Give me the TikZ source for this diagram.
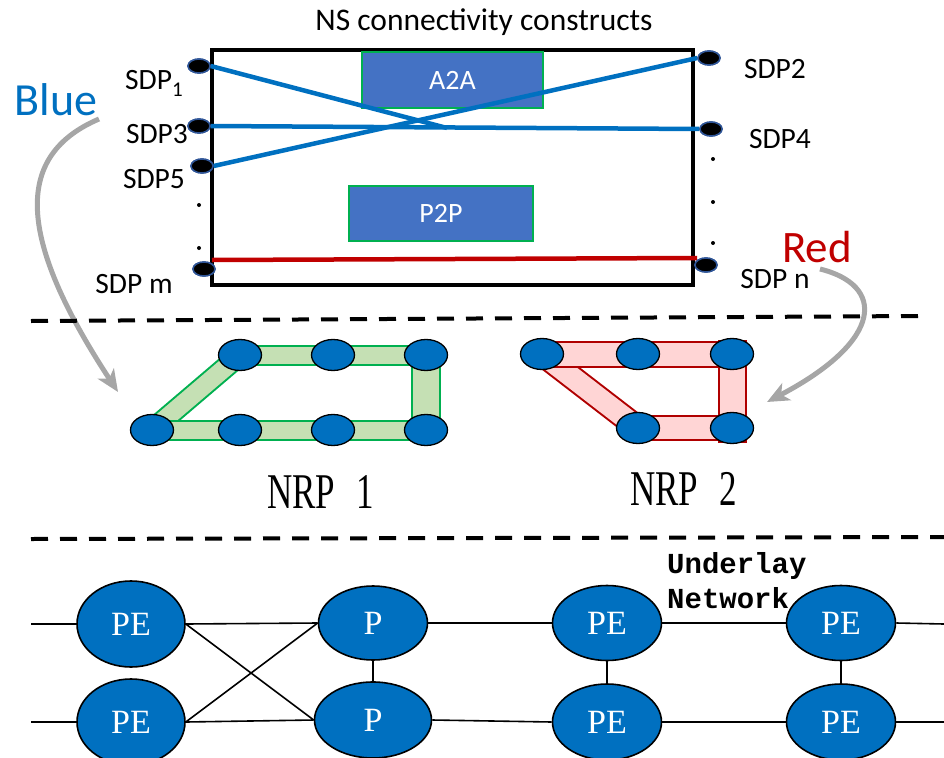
\documentclass[tikz,border=0pt]{standalone}
\usepackage{fontspec}
\setmainfont{Carlito}
\newfontfamily\serifn{Liberation Serif}
\newfontfamily\serifnarrow[FakeStretch=0.7]{Liberation Serif}
\newfontfamily\monof{Liberation Mono}
\usetikzlibrary{shapes.geometric,arrows.meta}
\pgfdeclarelayer{bg}
\pgfsetlayers{bg,main}
\definecolor{lineblue}{HTML}{0070C0}
\definecolor{boxblue}{HTML}{4472C4}
\definecolor{greenb}{HTML}{00B050}
\definecolor{lightg}{HTML}{C5E0B4}
\definecolor{pinkf}{HTML}{FFD5D5}
\definecolor{darkr}{HTML}{B00000}
\definecolor{redline}{HTML}{C00000}
\definecolor{grayarr}{HTML}{A6A6A6}
\definecolor{sdpborder}{HTML}{2F5597}
\tikzset{
  sdp/.style={ellipse,draw=sdpborder,fill=black,line width=1.5pt,minimum width=22pt,minimum height=14pt,inner sep=0pt},
  sdplabel/.style={font=\fontsize{29.5}{34}\selectfont,inner sep=0pt,anchor=base},
  conn/.style={draw=lineblue,line width=4.5pt},
  bluebox/.style={rectangle,fill=boxblue,draw=greenb,line width=1.5pt,text=white,font=\fontsize{28}{32}\selectfont,inner sep=0pt},
  nrpnode/.style={ellipse,draw=black,fill=lineblue,line width=1.3pt,minimum width=43pt,minimum height=31pt,inner sep=0pt},
  ulnode/.style={ellipse,draw=black,fill=lineblue,line width=1.6pt,inner sep=0pt,text=white,font=\serifn\fontsize{34}{34}\selectfont},
  ulline/.style={draw=black,line width=1.6pt},
  dashline/.style={line width=4pt,dash pattern=on 17pt off 12pt},
  grayarrow/.style={draw=grayarr,line width=5pt,-{Stealth[length=22pt,width=19pt,inset=6pt]}},
  nrplabel/.style={font=\serifnarrow\fontsize{50}{50}\selectfont,anchor=base west,inner sep=0pt}
}
\begin{document}
\begin{tikzpicture}[x=1pt,y=-1pt]
\useasboundingbox (0,0) rectangle (944,757);

% ---------- top section ----------
\node[font=\fontsize{31.5}{34}\selectfont] (title) at (484,22) {NS connectivity constructs};
\node[draw=black,line width=4.5pt,minimum width=481pt,minimum height=235pt,inner sep=0pt] (ns) at (452.5,167.5) {};
\node[bluebox,minimum width=181pt,minimum height=56pt] (a2a) at (452.5,80) {A2A};
\node[bluebox,minimum width=184pt,minimum height=55pt] (p2p) at (441,213.5) {P2P};

\node[sdp] (s1) at (199,66) {};
\node[sdp] (s3) at (199,126) {};
\node[sdp] (s5) at (202,166) {};
\node[sdp] (sm) at (204,269) {};
\node[sdp] (s2) at (709,58) {};
\node[sdp] (s4) at (711,129) {};
\node[sdp] (sn) at (706,265) {};
\coordinate (j) at (447,128);
\coordinate (rl) at (212,260);
\coordinate (rr) at (697,258);

\draw[conn] (s3.east) -- (s4.west);
\draw[conn] (s1.east) -- (j);
\draw[conn] (s5.east) -- (s2.west);
\draw[draw=redline,line width=4.5pt] (rl) -- (rr);
% SDP ellipses on top of the connectors
\node[sdp] at (s1) {};
\node[sdp] at (s3) {};
\node[sdp] at (s5) {};
\node[sdp] at (sm) {};
\node[sdp] at (s2) {};
\node[sdp] at (s4) {};
\node[sdp] at (sn) {};

\fill (199,205) circle (2pt);
\fill (199,248) circle (2pt);
\fill (713,159) circle (2pt);
\fill (713,202) circle (2pt);
\fill (713,243) circle (2pt);

\node[sdplabel,anchor=base west] (l1) at (125,90) {SDP\raisebox{-7pt}{\fontsize{21}{21}\selectfont 1}};
\node[sdplabel] (l3) at (157,143) {SDP3};
\node[sdplabel] (l5) at (154,188) {SDP5};
\node[sdplabel] (lm) at (134,293) {SDP m};
\node[sdplabel] (l2) at (775,79) {SDP2};
\node[sdplabel] (l4) at (780,148) {SDP4};
\node[sdplabel] (ln) at (775,288) {SDP n};

\node[font=\fontsize{46}{50}\selectfont,text=lineblue,anchor=base,inner sep=0pt] (blue) at (56,115) {Blue};
\node[font=\fontsize{45}{50}\selectfont,text=redline,anchor=base,inner sep=0pt] (red) at (817,262) {Red};

\coordinate (bt) at (118,392);
\coordinate (rt) at (767,402);
\draw[grayarrow] (99,119) .. controls (15,155) and (15,235) .. (bt);
\draw[grayarrow] (820,269) .. controls (885,285) and (885,340) .. (rt);

% dashed separators
\draw[dashline] (31,321) -- (920,316);
\draw[dashline] (31,539) -- (944,537);

% ---------- NRP 1 ----------
\node[nrpnode] (g1) at (240,355) {};
\node[nrpnode] (g2) at (333,355) {};
\node[nrpnode] (g3) at (426,355) {};
\node[nrpnode] (g4) at (152,430) {};
\node[nrpnode] (g5) at (240,430) {};
\node[nrpnode] (g6) at (333,430) {};
\node[nrpnode] (g7) at (426,430) {};
\begin{pgfonlayer}{bg}
\draw[draw=greenb,line width=22pt] (g4.center) -- (g1.center);
\draw[draw=lightg,line width=18pt] (g4.center) -- (g1.center);
\draw[draw=greenb,line width=30pt] (g3.center) -- (g7.center);
\draw[draw=lightg,line width=26pt] (g3.center) -- (g7.center);
\draw[draw=greenb,line width=21pt] (g1.center) -- (g3.center);
\draw[draw=lightg,line width=17pt] (g1.center) -- (g3.center);
\draw[draw=greenb,line width=21pt] (g4.center) -- (g7.center);
\draw[draw=lightg,line width=17pt] (g4.center) -- (g7.center);
\end{pgfonlayer}
\node[nrplabel] (nrp1) at (267,508) {NRP\hspace{21pt}1};

% ---------- NRP 2 ----------
\node[nrpnode] (r1) at (542,354) {};
\node[nrpnode] (r2) at (638,354) {};
\node[nrpnode] (r3) at (732,354) {};
\node[nrpnode] (r4) at (638,428) {};
\node[nrpnode] (r5) at (732,428) {};
\begin{pgfonlayer}{bg}
\draw[draw=darkr,line width=25pt] (r1.center) -- (r4.center);
\draw[draw=pinkf,line width=21pt] (r1.center) -- (r4.center);
\draw[draw=darkr,line width=29pt,line cap=rect] (r3.center) -- (r5.center);
\draw[draw=pinkf,line width=25pt,line cap=rect] (r3.center) -- (r5.center);
\draw[draw=darkr,line width=27pt] (r1.center) -- (r3.center);
\draw[draw=pinkf,line width=23pt] (r1.center) -- (r3.center);
\draw[draw=darkr,line width=26pt] (r4.center) -- (r5.center);
\draw[draw=pinkf,line width=22pt] (r4.center) -- (r5.center);
\end{pgfonlayer}
\node[nrplabel] (nrp2) at (630,505) {NRP\hspace{21pt}2};

% ---------- underlay ----------
\node[ulnode,minimum width=108pt,minimum height=86pt] (pe1) at (131,624) {PE};
\node[ulnode,minimum width=108pt,minimum height=86pt] (pe2) at (131,722) {PE};
\node[ulnode,minimum width=109pt,minimum height=74pt] (p1) at (373,623) {P};
\node[ulnode,minimum width=117pt,minimum height=76pt] (p2) at (373,720) {P};
\node[ulnode,minimum width=109pt,minimum height=75pt] (pe3) at (607,623) {PE};
\node[ulnode,minimum width=109pt,minimum height=76pt] (pe4) at (607,722) {PE};
\node[ulnode,minimum width=109pt,minimum height=75pt] (pe5) at (841,623) {PE};
\node[ulnode,minimum width=109pt,minimum height=76pt] (pe6) at (841,722) {PE};
\coordinate (a1) at (31,624);
\coordinate (a2) at (31,722);
\coordinate (b1) at (944,624);
\coordinate (b2) at (944,722);
\draw[ulline] (a1) -- (pe1.west);
\draw[ulline] (a2) -- (pe2.west);
\draw[ulline] (pe1.east) -- (p1.west);
\draw[ulline] (pe1.east) -- (p2.west);
\draw[ulline] (pe2.east) -- (p1.west);
\draw[ulline] (pe2.east) -- (p2.west);
\draw[ulline] (p1.south) -- (p2.north);
\draw[ulline] (p1.east) -- (pe3.west);
\draw[ulline] (p2.east) -- (pe4.west);
\draw[ulline] (pe3.south) -- (pe4.north);
\draw[ulline] (pe3.east) -- (pe5.west);
\draw[ulline] (pe4.east) -- (pe6.west);
\draw[ulline] (pe5.south) -- (pe6.north);
\draw[ulline] (pe5.east) -- (b1);
\draw[ulline] (pe6.east) -- (b2);

\node[font=\monof\bfseries\fontsize{29}{34}\selectfont,anchor=base west,inner sep=0pt] (und) at (667,573) {Underlay};
\node[font=\monof\bfseries\fontsize{29}{34}\selectfont,anchor=base west,inner sep=0pt] (net) at (667,608) {Network};
\end{tikzpicture}
\end{document}
